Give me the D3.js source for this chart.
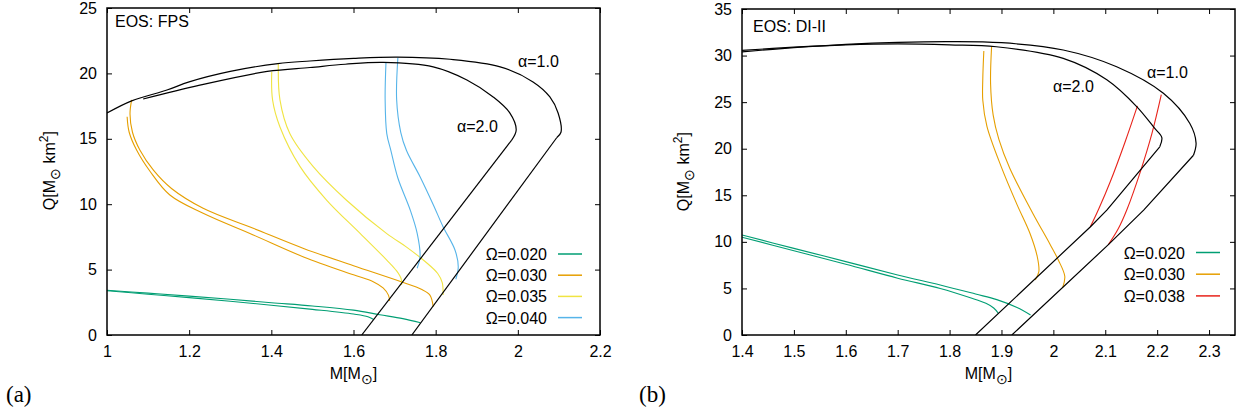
<!DOCTYPE html>
<html>
<head>
<meta charset="utf-8">
<script src="https://cdn.jsdelivr.net/npm/d3@7"></script>
<style>
  body { margin: 0; background: #fff; }
  svg { display: block; }
  text { font-family: "Liberation Sans", Arial, sans-serif; fill: #000; }
</style>
</head>
<body>
<svg id="fig" width="1238" height="414"></svg>
<script>
// ---- data: [M (Msun), Q (Msun km^2)] ----

// panel (a) EOS FPS
const fpsXTicks = [1, 1.2, 1.4, 1.6, 1.8, 2, 2.2];
const fpsYTicks = [0, 5, 10, 15, 20, 25];
const fpsAlpha1Arc = [[1.0,16.97],[1.06,17.9],[1.146,18.73],[1.2,19.35],[1.3,20.15],[1.416,20.75],[1.494,20.95],[1.6,21.15],[1.706,21.25],[1.835,21.08],[1.957,20.5],[2.037,19.35],[2.078,18.2],[2.098,16.97],[2.105,15.5],[2.095,15.1]];
const fpsAlpha1Leg = [[2.095,15.1],[1.742,0]];
const fpsAlpha2Arc = [[1.088,18.04],[1.226,19.1],[1.39,20.15],[1.494,20.45],[1.58,20.7],[1.672,20.84],[1.794,20.5],[1.876,19.5],[1.94,18.2],[1.98,17.0],[1.996,15.67],[1.985,14.9]];
const fpsAlpha2Leg = [[1.985,14.9],[1.62,0]];
const fpsOmega020a1 = [[1.0,3.42],[1.1,3.2],[1.2,2.97],[1.3,2.73],[1.4,2.47],[1.5,2.22],[1.6,1.9],[1.664,1.55],[1.72,1.25],[1.763,0.93]];
const fpsOmega020a2 = [[1.0,3.38],[1.1,3.12],[1.2,2.86],[1.3,2.58],[1.4,2.28],[1.5,1.96],[1.6,1.6],[1.635,1.4],[1.648,1.2]];
const fpsOmega030a1 = [[1.060,17.97],[1.056,16.9],[1.062,15.5],[1.080,14.14],[1.113,12.6],[1.157,11.2],[1.234,9.69],[1.356,8.16],[1.48,6.6],[1.6,5.3],[1.718,4.05],[1.765,3.5],[1.786,3.05],[1.794,2.16]];
const fpsOmega030a2 = [[1.049,16.69],[1.054,15.5],[1.072,14.14],[1.105,12.5],[1.153,10.7],[1.234,9.3],[1.356,7.65],[1.48,5.95],[1.6,4.6],[1.648,4.08],[1.672,3.6],[1.685,3.05],[1.688,2.6]];
const fpsOmega035a1 = [[1.417,20.77],[1.421,17.97],[1.445,15.4],[1.502,12.87],[1.583,10.3],[1.681,7.75],[1.73,6.7],[1.775,5.6],[1.805,4.7],[1.816,4.0],[1.818,3.06]];
const fpsOmega035a2 = [[1.401,20.13],[1.403,17.97],[1.421,15.9],[1.470,12.87],[1.535,10.3],[1.616,7.77],[1.681,5.73],[1.705,4.9],[1.716,4.3],[1.717,3.82]];
const fpsOmega040a1 = [[1.708,21.2],[1.705,18.0],[1.715,15.5],[1.729,14.1],[1.762,12.1],[1.795,9.9],[1.818,8.28],[1.847,6.5],[1.855,5.22],[1.849,4.26]];
const fpsOmega040a2 = [[1.679,20.8],[1.677,18.0],[1.681,15.4],[1.691,14.1],[1.708,12.0],[1.738,9.56],[1.755,7.77],[1.762,6.0],[1.755,5.1]];

// panel (b) EOS DI-II
const di2XTicks = [1.4, 1.5, 1.6, 1.7, 1.8, 1.9, 2, 2.1, 2.2, 2.3];
const di2YTicks = [0, 5, 10, 15, 20, 25, 30, 35];
const di2Alpha1Arc = [[1.4,30.4],[1.5,30.85],[1.6,31.2],[1.7,31.42],[1.8,31.5],[1.9,31.38],[2.019,30.6],[2.122,28.8],[2.212,25.95],[2.263,22.7],[2.275,20.6],[2.27,19.3]];
const di2Alpha1Leg = [[2.27,19.3],[2.174,13.4],[2.106,9.7],[1.92,0]];
const di2Alpha2Arc = [[1.4,30.55],[1.5,30.9],[1.6,31.15],[1.7,31.25],[1.8,31.15],[1.89,30.95],[2.019,29.7],[2.103,27.4],[2.161,24.5],[2.195,22.2],[2.209,21.2],[2.205,20.2]];
const di2Alpha2Leg = [[2.205,20.2],[2.103,13.4],[2.071,11.6],[1.85,0]];
const di2Omega020a1 = [[1.4,10.74],[1.5,9.3],[1.6,7.88],[1.7,6.45],[1.782,5.37],[1.85,4.4],[1.891,3.8],[1.93,2.95],[1.956,2.15]];
const di2Omega020a2 = [[1.4,10.5],[1.5,9.05],[1.6,7.6],[1.7,6.1],[1.782,5.0],[1.84,4.0],[1.87,3.4],[1.885,2.9],[1.894,2.33]];
const di2Omega030a1 = [[1.881,31.0],[1.879,27.0],[1.884,23.6],[1.895,21.0],[1.916,17.9],[1.96,13.1],[1.993,9.8],[2.010,8.0],[2.022,6.3],[2.018,5.1]];
const di2Omega030a2 = [[1.866,30.5],[1.864,27.5],[1.864,25.2],[1.872,22.4],[1.9,18.0],[1.93,14.0],[1.955,10.9],[1.969,8.4],[1.972,6.8],[1.965,5.9]];
const di2Omega038a1 = [[2.208,25.8],[2.19,21.65],[2.168,17.6],[2.142,13.5],[2.125,11.4],[2.106,9.7]];
const di2Omega038a2 = [[2.162,24.6],[2.138,20.7],[2.11,16.5],[2.088,13.6],[2.071,11.6]];

const colors = { "0.020": "#009e73", "0.030": "#e69f00", "0.035": "#f0e442", "0.040": "#56b4e9", "0.038": "#e8231a" };

const svg = d3.select("#fig");

function drawPanel(p) {
    const g = svg.append("g");
    const x = d3.scaleLinear().domain(p.xDomain).range([p.left, p.right]);
    const y = d3.scaleLinear().domain(p.yDomain).range([p.bottom, p.top]);

    // axes, ticks pointing inward on all four sides
    const styleAxis = sel => {
        sel.select(".domain").remove();
        sel.selectAll("line").attr("stroke", "#000").attr("stroke-width", 1);
        sel.selectAll("text").style("font-size", "16px").style("font-family", "'Liberation Sans', Arial, sans-serif");
    };
    g.append("g").attr("transform", `translate(0,${p.bottom})`)
        .call(d3.axisBottom(x).tickValues(p.xTicks).tickFormat(d3.format("~g")).tickSizeInner(-5).tickSizeOuter(0).tickPadding(11))
        .call(styleAxis);
    g.append("g").attr("transform", `translate(0,${p.top})`)
        .call(d3.axisTop(x).tickValues(p.xTicks).tickFormat("").tickSizeInner(-5).tickSizeOuter(0))
        .call(styleAxis);
    g.append("g").attr("transform", `translate(${p.left},0)`)
        .call(d3.axisLeft(y).tickValues(p.yTicks).tickSizeInner(-5).tickSizeOuter(0).tickPadding(10))
        .call(styleAxis);
    g.append("g").attr("transform", `translate(${p.right},0)`)
        .call(d3.axisRight(y).tickValues(p.yTicks).tickFormat("").tickSizeInner(-5).tickSizeOuter(0))
        .call(styleAxis);

    const clipId = "clip-" + p.tag;
    g.append("clipPath").attr("id", clipId).append("rect")
        .attr("x", p.left).attr("y", p.top).attr("width", p.right - p.left).attr("height", p.bottom - p.top);

    const smooth = d3.line().x(d => x(d[0])).y(d => y(d[1])).curve(d3.curveCatmullRom.alpha(0.5));
    const straight = d3.line().x(d => x(d[0])).y(d => y(d[1]));

    const plot = g.append("g").attr("clip-path", `url(#${clipId})`);
    p.curves.forEach(c => {
        plot.append("path")
            .attr("d", c.linear ? straight(c.data) : smooth(c.data))
            .attr("fill", "none")
            .attr("stroke", c.color)
            .attr("stroke-width", c.width || 1.1)
            .attr("stroke-linejoin", "round");
    });

    // frame
    g.append("rect")
        .attr("x", p.left).attr("y", p.top)
        .attr("width", p.right - p.left).attr("height", p.bottom - p.top)
        .attr("fill", "none").attr("stroke", "#000").attr("stroke-width", 1.5);

    // EOS label
    g.append("text").attr("x", p.eosX).attr("y", p.eosY).style("font-size", "16px").text(p.eos);

    // alpha labels
    p.alphaLabels.forEach(a => {
        g.append("text").attr("x", a.x).attr("y", a.y).style("font-size", "16px").text(a.text);
    });

    // legend
    p.legend.forEach((l, i) => {
        const by = p.legendY + i * p.legendStep;
        g.append("text").attr("x", p.legendX).attr("y", by)
            .attr("text-anchor", "end").style("font-size", "16px").text("Ω=" + l);
        g.append("line")
            .attr("x1", p.legendX + 11).attr("x2", p.legendX + 35)
            .attr("y1", by - 6).attr("y2", by - 6)
            .attr("stroke", colors[l]).attr("stroke-width", 1.5);
    });

    // axis titles
    const yl = g.append("text")
        .attr("transform", `translate(${p.yLabelX},${p.top + 123}) rotate(-90)`)
        .attr("text-anchor", "end").style("font-size", "16px");
    yl.append("tspan").text("Q[M");
    yl.append("tspan").attr("dy", 5).style("font-size", "14px").text("⊙");
    yl.append("tspan").attr("dy", -5).text(" km");
    yl.append("tspan").attr("dy", -7).style("font-size", "12px").text("2");
    yl.append("tspan").attr("dy", 7).text("]");

    const xl = g.append("text")
        .attr("x", (p.left + p.right) / 2).attr("y", p.bottom + 44)
        .attr("text-anchor", "middle").style("font-size", "16px");
    xl.append("tspan").text("M[M");
    xl.append("tspan").attr("dy", 5).style("font-size", "14px").text("⊙");
    xl.append("tspan").attr("dy", -5).text("]");

    // panel tag
    g.append("text").attr("x", p.tagX).attr("y", 402)
        .style("font-family", "'Liberation Serif', 'DejaVu Serif', serif").style("font-size", "23px")
        .text("(" + p.tag + ")");
}

drawPanel({
    tag: "a", tagX: 6,
    left: 107, right: 600, top: 8, bottom: 335,
    xDomain: [1, 2.2], yDomain: [0, 25],
    xTicks: fpsXTicks, yTicks: fpsYTicks,
    yLabelX: 55,
    eos: "EOS: FPS", eosX: 115, eosY: 27,
    alphaLabels: [{ text: "α=1.0", x: 518, y: 67 }, { text: "α=2.0", x: 457, y: 132 }],
    legend: ["0.020", "0.030", "0.035", "0.040"], legendX: 547, legendY: 260, legendStep: 21.2,
    curves: [
        { data: fpsOmega020a1, color: colors["0.020"] },
        { data: fpsOmega020a2, color: colors["0.020"] },
        { data: fpsOmega030a1, color: colors["0.030"] },
        { data: fpsOmega030a2, color: colors["0.030"] },
        { data: fpsOmega035a1, color: colors["0.035"] },
        { data: fpsOmega035a2, color: colors["0.035"] },
        { data: fpsOmega040a1, color: colors["0.040"] },
        { data: fpsOmega040a2, color: colors["0.040"] },
        { data: fpsAlpha1Arc, color: "#000", width: 1.2 },
        { data: fpsAlpha1Leg, color: "#000", width: 1.2, linear: true },
        { data: fpsAlpha2Arc, color: "#000", width: 1.2 },
        { data: fpsAlpha2Leg, color: "#000", width: 1.2, linear: true }
    ]
});

drawPanel({
    tag: "b", tagX: 639,
    left: 742, right: 1235, top: 9, bottom: 335,
    xDomain: [1.4, 2.35], yDomain: [0, 35],
    xTicks: di2XTicks, yTicks: di2YTicks,
    yLabelX: 689,
    eos: "EOS: DI-II", eosX: 753, eosY: 32,
    alphaLabels: [{ text: "α=1.0", x: 1147, y: 78 }, { text: "α=2.0", x: 1053, y: 92 }],
    legend: ["0.020", "0.030", "0.038"], legendX: 1185, legendY: 258.5, legendStep: 21.7,
    curves: [
        { data: di2Omega020a1, color: colors["0.020"] },
        { data: di2Omega020a2, color: colors["0.020"] },
        { data: di2Omega030a1, color: colors["0.030"] },
        { data: di2Omega030a2, color: colors["0.030"] },
        { data: di2Omega038a1, color: colors["0.038"] },
        { data: di2Omega038a2, color: colors["0.038"] },
        { data: di2Alpha1Arc, color: "#000", width: 1.2 },
        { data: di2Alpha1Leg, color: "#000", width: 1.2, linear: true },
        { data: di2Alpha2Arc, color: "#000", width: 1.2 },
        { data: di2Alpha2Leg, color: "#000", width: 1.2, linear: true }
    ]
});
</script>
</body>
</html>
